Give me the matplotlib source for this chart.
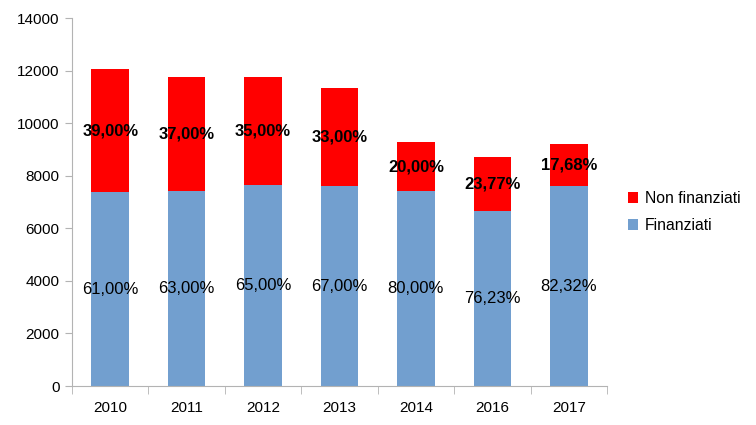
import matplotlib
matplotlib.use("Agg")
import matplotlib.pyplot as plt
import numpy as np

years = ["2010", "2011", "2012", "2013", "2014", "2016", "2017"]
finanziati = [7368, 7405, 7646, 7608, 7417, 6645, 7608]
non_finanziati = [4690, 4349, 4120, 3727, 1853, 2077, 1609]
pct_fin = ["61,00%", "63,00%", "65,00%", "67,00%", "80,00%", "76,23%", "82,32%"]
pct_non = ["39,00%", "37,00%", "35,00%", "33,00%", "20,00%", "23,77%", "17,68%"]
yticks = [0, 2000, 4000, 6000, 8000, 10000, 12000, 14000]

plt.rcParams['font.family'] = ['Liberation Sans', 'DejaVu Sans']

fig = plt.figure(figsize=(7.56, 4.25), dpi=100)
ax = fig.add_axes([72/756, 39/425, (607-72)/756, (386-18)/425])

x = np.arange(len(years))
w = 0.49
b1 = ax.bar(x, finanziati, w, color='#729fcf', label='Finanziati')
b2 = ax.bar(x, non_finanziati, w, bottom=finanziati, color='#ff0000', label='Non finanziati')

ax.bar_label(b1, labels=pct_fin, label_type='center', fontsize=12, color='black')
ax.bar_label(b2, labels=pct_non, label_type='center', fontsize=12, color='black', fontweight='bold')

ax.set_xlim(-0.5, len(years) - 0.5)
ax.set_ylim(0, 14000)
ax.set_yticks(yticks)
ax.set_yticklabels([str(v) for v in yticks], fontsize=11)
ax.set_xticks(x)
ax.set_xticklabels(years, fontsize=11)
ax.set_xticks(np.arange(-0.5, len(years)), minor=True)
ax.tick_params(axis='x', which='major', length=0, pad=11)
ax.tick_params(axis='x', which='minor', length=6, color='#b3b3b3', direction='out')
ax.tick_params(axis='y', length=5, color='#b3b3b3', direction='out', pad=4)

for s in ['top', 'right']:
    ax.spines[s].set_visible(False)
for s in ['left', 'bottom']:
    ax.spines[s].set_color('#b3b3b3')

handles = [b2, b1]
fig.legend(handles, ['Non finanziati', 'Finanziati'], loc='center left',
           bbox_to_anchor=(614/756, 1 - 212/425), frameon=False, fontsize=11.3,
           handlelength=0.65, handleheight=0.65, handletextpad=0.4, labelspacing=0.75)

fig.savefig('out.png', dpi=100)
